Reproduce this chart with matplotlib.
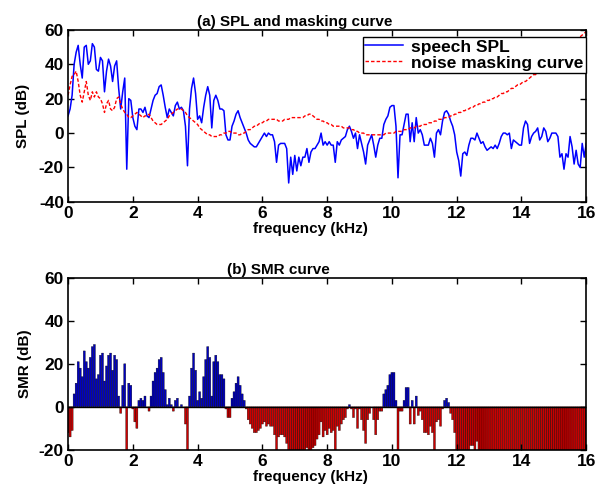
import numpy as np
import matplotlib.pyplot as plt

plt.rcParams['font.family'] = ['Liberation Sans', 'DejaVu Sans']
plt.rcParams['font.weight'] = 'bold'
plt.rcParams['axes.unicode_minus'] = False

# frequency grid (kHz), 62.5 Hz steps
freq = np.linspace(0, 16, 257)

# speech SPL (dB)
spl = [10, 14, 22, 40, 47, 51, 40, 32, 50, 51, 40, 42, 52, 50, 37, 36,
       44, 42, 24, 36, 43, 39, 30, 39, 42, 26, 14, 24, 32, -21, 20, 19,
       9, 4, 2, 14, 14, 12, 15, 10, 9, 14, 19, 22, 23, 27, 28, 22,
       15, 9, 14, 12, 10, 16, 18, 14, 15, 13, 4, -19, 14, 26, 32, 23,
       8, 10, 6, 15, 22, 27, 22, 3, 19, 22, 19, 14, 14, 13, -1, -4,
       -4, 4, 7, 11, 13, 9, 6, 3, 0, -4, -6, -7, -8, -8, -6, -4,
       -2, 0, -2, 0, -1, -1, -5, -17, -7, -6, -6, -6, -9, -29, -14, -24,
       -13, -22, -14, -19, -14, -14, -9, -17, -11, -9, -9, -7, -5, 0, -7, -5,
       -7, -5, -7, -7, -17, -5, -7, -4, -3, -2, 2, 4, 1, -3, 0, -9,
       -1, -6, -11, -18, -7, -4, -1, -7, -14, -7, -3, -3, 5, 8, 10, 15,
       16, 16, 4, -26, -1, -1, 5, 11, 11, -5, 6, -5, 9, 0, 2, -1,
       -7, -7, -7, -3, -6, -14, 0, 2, -1, 7, 12, 13, 11, 7, 4, -1,
       -11, -16, -25, -12, -11, -13, -7, -3, -3, -4, 0, -3, -6, -5, -8, -10,
       -9, -8, -9, -7, -9, -6, -2, 0, 0, -1, 0, -9, -4, -5, -6, -7,
       -7, 3, 7, 5, -6, -2, 0, 1, 3, -4, -2, 3, 1, -5, -3, 0,
       0, 0, -2, -14, -12, -21, -12, -14, -2, -8, -18, -10, -18, -20, -6, -14,
       -6]

# noise masking curve (dB)
mask = [22, 28, 33, 34, 36, 30, 22, 18, 24, 30, 22, 19, 24, 21, 24, 21,
        20, 17, 12, 17, 19, 14, 13, 15, 20, 21, 17, 14, 12, 11, 9, 9,
        10, 11, 12, 11, 10, 9, 10, 10, 11, 9, 7, 6, 5, 5, 5, 6,
        7, 8, 10, 11, 12, 13, 14, 14, 14, 13, 12, 10, 9, 8, 7, 6,
        5, 3, 2, 1, 0, -1, -1, -2, -2, -2, -2, -1, -1, 0, 0, 1,
        1, 0, 0, 0, -1, -1, 0, 0, 1, 2, 2, 3, 4, 4, 5, 6,
        6, 7, 7, 8, 8, 8, 8, 8, 7, 7, 7, 8, 8, 8, 9, 9,
        9, 9, 9, 9, 9, 10, 10, 11, 11, 10, 9, 8, 8, 7, 7, 6,
        6, 5, 5, 4, 4, 4, 4, 4, 3, 3, 3, 3, 2, 2, 1, 1,
        0, 0, 0, -1, -1, -1, -1, -1, -1, -1, -1, -1, -1, 0, 0, 0,
        0, 0, 1, 1, 1, 1, 2, 2, 2, 3, 3, 3, 4, 4, 4, 5,
        5, 5, 6, 6, 6, 7, 7, 8, 8, 8, 9, 9, 9, 10, 10, 11,
        11, 12, 12, 13, 13, 14, 14, 15, 15, 16, 16, 17, 17, 18, 18, 19,
        19, 20, 20, 21, 21, 22, 23, 23, 24, 24, 25, 26, 26, 27, 28, 28,
        29, 30, 30, 31, 32, 33, 34, 34, 35, 36, 37, 38, 39, 40, 41, 42,
        43, 44, 45, 46, 47, 48, 49, 50, 51, 52, 53, 54, 55, 56, 57, 58,
        59]

spl = np.array(spl)
mask = np.array(mask)
smr = spl - mask

fig = plt.figure(figsize=(5.97, 4.90), dpi=100)
ax1 = fig.add_axes([0.114, 0.588, 0.868, 0.351])
ax2 = fig.add_axes([0.114, 0.082, 0.868, 0.351])

# (a) spl and masking curve
ax1.plot(freq, spl, color='b', lw=1.1, label='speech SPL')
ax1.plot(freq, mask, color='r', lw=1.0, ls='--', dashes=(2.5, 1.5), label='noise masking curve')
ax1.set_xlim(0, 16)
ax1.set_ylim(-40, 60)
ax1.set_yticks([-40, -20, 0, 20, 40, 60])
ax1.set_title('(a) SPL and masking curve', fontsize=11, fontweight='bold', pad=3, x=0.437)
ax1.set_xlabel('frequency (kHz)', fontsize=11, fontweight='bold', labelpad=1)
ax1.set_ylabel('SPL (dB)', fontsize=11, fontweight='bold')
ax1.yaxis.set_label_coords(-0.074, 0.5)
leg = ax1.legend(loc='upper right', bbox_to_anchor=(1.0, 0.96), fontsize=12.5,
                 fancybox=False, framealpha=1, borderaxespad=0, handlelength=2.2,
                 borderpad=0.15, labelspacing=0.05, handletextpad=0.45)
leg.get_frame().set_edgecolor('k')
leg.get_frame().set_linewidth(1.0)

# (b) smr bars, blue above zero, red below
cols = [(0, 0, 0.75) if v > 0 else (0.8, 0, 0) for v in smr]
ax2.bar(freq, smr, width=0.0625, color=cols, edgecolor='k', linewidth=0.25, snap=False)
ax2.axhline(0, color='k', lw=1.0)
ax2.set_xlim(0, 16)
ax2.set_ylim(-20, 60)
ax2.set_yticks([-20, 0, 20, 40, 60])
ax2.set_title('(b) SMR curve', fontsize=11, fontweight='bold', pad=3, x=0.405)
ax2.set_xlabel('frequency (kHz)', fontsize=11, fontweight='bold', labelpad=1)
ax2.set_ylabel('SMR (dB)', fontsize=11, fontweight='bold')
ax2.yaxis.set_label_coords(-0.07, 0.5)

for ax in (ax1, ax2):
    ax.set_xticks(range(0, 17, 2))
    ax.tick_params(direction='in', top=True, right=True, length=4, width=1,
                   labelsize=12.5, pad=3)
    for s in ax.spines.values():
        s.set_linewidth(1.2)
    for lab in ax.get_xticklabels() + ax.get_yticklabels():
        lab.set_fontweight('bold')
    # x label sits a bit left of the axes centre, as in the original
    ax.xaxis.label.set_x(0.468)

fig.savefig('out.png', dpi=100)
